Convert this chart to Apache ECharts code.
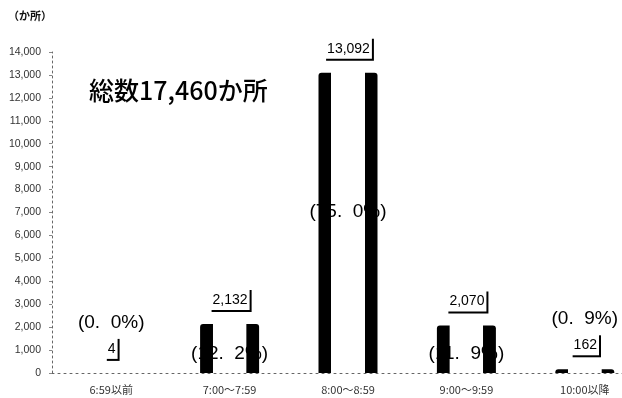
<!DOCTYPE html>
<html>
<head>
<meta charset="utf-8">
<script src="https://cdn.jsdelivr.net/npm/echarts@6/dist/echarts.min.js"></script>
<style>
  html, body { margin: 0; padding: 0; background: #fff; }
  #chart { width: 622px; height: 398px; }
</style>
</head>
<body>
<div id="chart"></div>
<script>
// 時間帯別の箇所数
const categories = ['6:59以前', '7:00～7:59', '8:00～8:59', '9:00～9:59', '10:00以降'];
const counts = [4, 2132, 13092, 2070, 162];
const yMin = 0;
const yMax = 14000;
const yStep = 1000;
const unitLabel = '（か所）';

const total = counts.reduce((a, b) => a + b, 0);
const totalLabel = '総数' + total.toLocaleString('en-US') + 'か所';

function fmtComma(v) { return Number(v).toLocaleString('en-US'); }
function fmtPct(v) {
  const s = (v / total * 100).toFixed(1);
  return '(' + s.replace('.', '.  ') + '%)';
}

// 棒は両端だけ黒く、中央は抜けた表現
const barFill = new echarts.graphic.LinearGradient(0, 0, 1, 0, [
  { offset: 0, color: '#000' },
  { offset: 0.21, color: '#000' },
  { offset: 0.22, color: 'rgba(0,0,0,0)' },
  { offset: 0.78, color: 'rgba(0,0,0,0)' },
  { offset: 0.79, color: '#000' },
  { offset: 1, color: '#000' }
]);

// 割合ラベルの置き方は棒の高さで決める
function pctLabel(v) {
  const r = v / yMax;
  const base = { show: true, formatter: fmtPct(v), color: '#000', fontSize: 19,
    textBorderWidth: 0, textBorderColor: 'transparent',
    fontFamily: 'Liberation Sans, Arial, sans-serif' };
  if (r < 0.05) return Object.assign(base, { position: 'top', distance: 41 });
  if (r < 0.3) return Object.assign(base, { position: 'insideBottom', distance: 10 });
  return Object.assign(base, { position: 'inside', offset: [0, -11] });
}

const chart = echarts.init(document.getElementById('chart'), null, { renderer: 'canvas' });
chart.setOption({
  animation: false,
  backgroundColor: '#fff',
  grid: { left: 52, top: 52, width: 592, height: 321, outerBoundsMode: 'none', containLabel: false },
  graphic: [
    { type: 'text', left: 8, top: 10,
      style: { text: unitLabel, fontSize: 11, fontWeight: 'bold', fill: '#111',
        fontFamily: 'Noto Sans CJK JP, sans-serif' } },
    { type: 'text', x: 89, y: 90,
      style: { text: totalLabel, fontSize: 25, fontWeight: 500, fill: '#000',
        verticalAlign: 'middle', fontFamily: 'Noto Sans CJK JP, sans-serif' } }
  ],
  xAxis: {
    type: 'category',
    data: categories,
    axisLine: { lineStyle: { color: '#666', type: [2, 4], width: 1 } },
    axisTick: { show: false },
    axisLabel: { color: '#333', fontSize: 11, margin: 11,
      fontFamily: 'Noto Sans CJK JP, sans-serif' }
  },
  yAxis: {
    type: 'value',
    min: yMin,
    max: yMax,
    interval: yStep,
    splitLine: { show: false },
    axisLine: { show: true, lineStyle: { color: '#666', type: [2, 3], width: 1 } },
    axisTick: { show: true, length: 3, lineStyle: { color: '#888' } },
    axisLabel: { color: '#333', fontSize: 10.5, margin: 11, formatter: fmtComma,
      fontFamily: 'Liberation Sans, Arial, sans-serif' }
  },
  series: [
    {
      // 割合ラベル(棒の下の層に描く)
      type: 'bar',
      zlevel: 0,
      z: 1,
      barWidth: 59,
      silent: true,
      itemStyle: { color: 'rgba(0,0,0,0)' },
      data: counts.map(v => ({ value: v, label: pctLabel(v) }))
    },
    {
      type: 'bar',
      zlevel: 1,
      z: 3,
      barWidth: 59,
      barGap: '-100%',
      itemStyle: { color: barFill, borderRadius: [3, 3, 0, 0] },
      label: {
        show: true,
        position: 'top',
        distance: 14,
        formatter: p => fmtComma(p.value),
        color: '#000',
        fontSize: 14,
        fontFamily: 'Liberation Sans, Arial, sans-serif',
        backgroundColor: '#fff',
        padding: [5, 2, 3, 3],
        shadowColor: '#000',
        shadowBlur: 0,
        shadowOffsetX: 2,
        shadowOffsetY: 2
      },
      data: counts
    }
  ]
});
</script>
</body>
</html>
